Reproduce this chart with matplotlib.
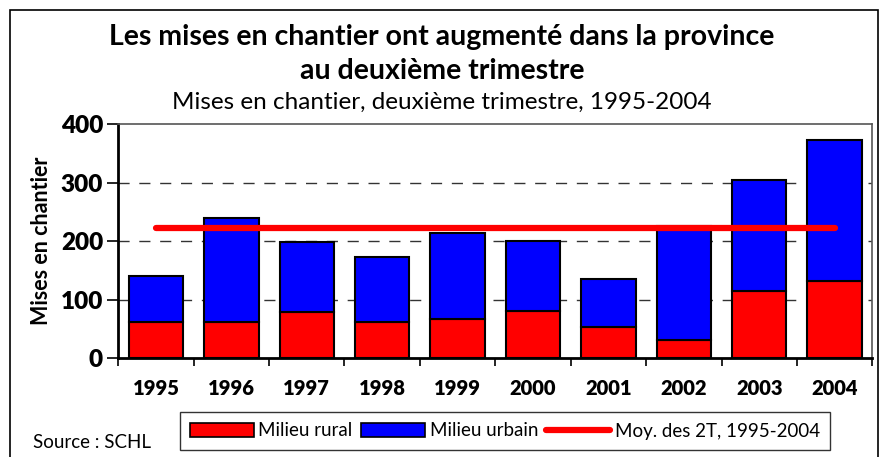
import matplotlib
matplotlib.use('Agg')
import matplotlib.pyplot as plt
from matplotlib.patches import Rectangle, Patch
from matplotlib.lines import Line2D
import numpy as np

plt.rcParams['font.family'] = ['Lato', 'DejaVu Sans']

# data
years = ['1995', '1996', '1997', '1998', '1999', '2000', '2001', '2002', '2003', '2004']
rural = [62, 62, 79, 62, 67, 81, 54, 31, 115, 132]
total = [141, 239, 198, 174, 215, 201, 136, 226, 304, 373]
urbain = [t - r for t, r in zip(total, rural)]
moyenne = 222
yticks = [0, 100, 200, 300, 400]

fig = plt.figure(figsize=(8.84, 4.57), dpi=100)
ax = fig.add_axes([0.1338, 0.216, 0.853, 0.512])

x = np.arange(len(years))
ax.bar(x, rural, width=0.72, color='#ff0000', edgecolor='black', linewidth=1.5, zorder=3)
ax.bar(x, urbain, bottom=rural, width=0.72, color='#0000ff', edgecolor='black',
       linewidth=1.5, zorder=3)
ax.plot([x[0], x[-1]], [moyenne, moyenne], color='#ff0000', linewidth=4.5,
        solid_capstyle='round', zorder=4)

ax.set_xlim(-0.5, len(years) - 0.5)
ax.set_ylim(0, 400)
ax.set_yticks(yticks)
ax.set_yticklabels([str(v) for v in yticks], fontsize=17.5, fontweight='heavy')
ax.set_xticks(x)
ax.set_xticklabels(years, fontsize=14.5, fontweight='heavy')
ax.set_xticks(np.arange(-0.5, len(years), 1), minor=True)
ax.tick_params(axis='x', which='major', length=0, pad=15)
ax.tick_params(axis='x', which='minor', length=6, width=1.2, direction='out')
ax.tick_params(axis='y', length=8, width=1.2, direction='out', pad=3)
ax.set_ylabel('Mises en chantier', fontsize=15.5, fontweight='bold', labelpad=6)

for v in yticks[1:-1]:
    ax.axhline(v, color='#333333', linewidth=1, linestyle=(0, (8, 7)), zorder=1)

ax.spines['left'].set_linewidth(2)
ax.spines['bottom'].set_linewidth(2)
ax.spines['top'].set_color('#555555')
ax.spines['right'].set_color('#555555')
ax.spines['top'].set_linewidth(1.2)
ax.spines['right'].set_linewidth(1.2)

fig.text(0.5, 1 - 37 / 457, 'Les mises en chantier ont augmenté dans la province',
         ha='center', va='center', fontsize=20.5, fontweight='bold')
fig.text(0.5, 1 - 71 / 457, 'au deuxième trimestre',
         ha='center', va='center', fontsize=20.5, fontweight='bold')
fig.text(0.5, 1 - 102 / 457, 'Mises en chantier, deuxième trimestre, 1995-2004',
         ha='center', va='center', fontsize=17.5)
fig.text(33 / 884, 1 - 442 / 457, 'Source : SCHL', ha='left', va='center', fontsize=13.5)

handles = [
    Patch(facecolor='#ff0000', edgecolor='black', linewidth=1.2, label='Milieu rural'),
    Patch(facecolor='#0000ff', edgecolor='black', linewidth=1.2, label='Milieu urbain'),
    Line2D([0], [0], color='#ff0000', linewidth=4.5, solid_capstyle='round',
           label='Moy. des 2T, 1995-2004'),
]
leg = fig.legend(handles=handles, loc='center', bbox_to_anchor=(505 / 884, 1 - 431 / 457),
                 ncol=3, fontsize=13.5, frameon=True, fancybox=False, borderpad=0.55,
                 handlelength=3.4, handletextpad=0.25, columnspacing=0.45,
                 borderaxespad=0)
leg.get_frame().set_edgecolor('black')
leg.get_frame().set_linewidth(1)

# outer frame
fig.patches.append(Rectangle((10 / 884, -0.05), 868 / 884, 1.05 - 10 / 457,
                             transform=fig.transFigure, fill=False,
                             edgecolor='black', linewidth=1.2))

fig.savefig('out.png', dpi=100)
plt.close(fig)
